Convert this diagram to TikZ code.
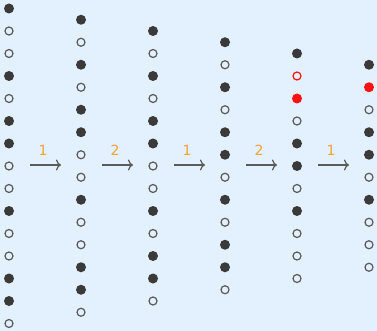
\documentclass[tikz,border=0pt]{standalone}
\usepackage{fontspec}
\setmainfont{DejaVu Sans}
\usetikzlibrary{arrows.meta,calc}
\definecolor{bg}{HTML}{E3F0FD}
\definecolor{dotc}{HTML}{3A3A3A}
\definecolor{ringc}{HTML}{5A5A5A}
\definecolor{lab}{HTML}{F2A23A}
\definecolor{hot}{HTML}{FF1010}
\tikzset{
  fdot/.style={circle,fill=dotc,inner sep=0pt,minimum size=10pt},
  odot/.style={circle,draw=ringc,line width=1.2pt,fill=bg,inner sep=0pt,minimum size=8pt},
  rfdot/.style={circle,fill=hot,inner sep=0pt,minimum size=10pt},
  rodot/.style={circle,draw=hot,line width=1.2pt,fill=bg,inner sep=0pt,minimum size=8pt},
  conn/.style={draw=ringc,line width=1.2pt,-{To[length=5pt,width=11pt]}},
  lbl/.style={text=lab,font=\fontsize{14pt}{14pt}\selectfont,inner sep=0pt}
}
\begin{document}
\begin{tikzpicture}[x=1pt,y=-1pt]
\fill[bg] (0,0) rectangle (377,331);
\useasboundingbox (0,0) rectangle (377,331);
% column 1
\foreach \s [count=\i] in {f,o,o,f,o,f,f,o,o,f,o,o,f,f,o}{
  \node[\s dot] (a\i) at (9,{8.5+(\i-1)*22.5}) {};
}
% column 2
\foreach \s [count=\i] in {f,o,f,o,f,f,o,o,f,o,o,f,f,o}{
  \node[\s dot] (b\i) at (81,{19.75+(\i-1)*22.5}) {};
}
% column 3
\foreach \s [count=\i] in {f,o,f,o,f,f,o,o,f,o,f,f,o}{
  \node[\s dot] (c\i) at (153,{31+(\i-1)*22.5}) {};
}
% column 4
\foreach \s [count=\i] in {f,o,f,o,f,f,o,f,o,f,f,o}{
  \node[\s dot] (d\i) at (225,{42.25+(\i-1)*22.5}) {};
}
% column 5
\foreach \s [count=\i] in {f,ro,rf,o,f,f,o,f,o,o,o}{
  \node[\s dot] (e\i) at (297,{53.5+(\i-1)*22.5}) {};
}
% column 6
\foreach \s [count=\i] in {f,rf,o,f,f,o,f,o,o,o}{
  \node[\s dot] (g\i) at (369,{64.75+(\i-1)*22.5}) {};
}
% arrows
\coordinate (p1) at (30,165); \coordinate (q1) at (61,165);
\coordinate (p2) at (102,165); \coordinate (q2) at (133,165);
\coordinate (p3) at (174,165); \coordinate (q3) at (205,165);
\coordinate (p4) at (246,165); \coordinate (q4) at (277,165);
\coordinate (p5) at (318,165); \coordinate (q5) at (349,165);
\foreach \k/\t in {1/1,2/2,3/1,4/2,5/1}{
  \draw[conn] (p\k) -- (q\k);
  \node[lbl] (l\k) at ($(p\k)!0.42!(q\k)+(0,-14.5)$) {\t};
}
\end{tikzpicture}
\end{document}
